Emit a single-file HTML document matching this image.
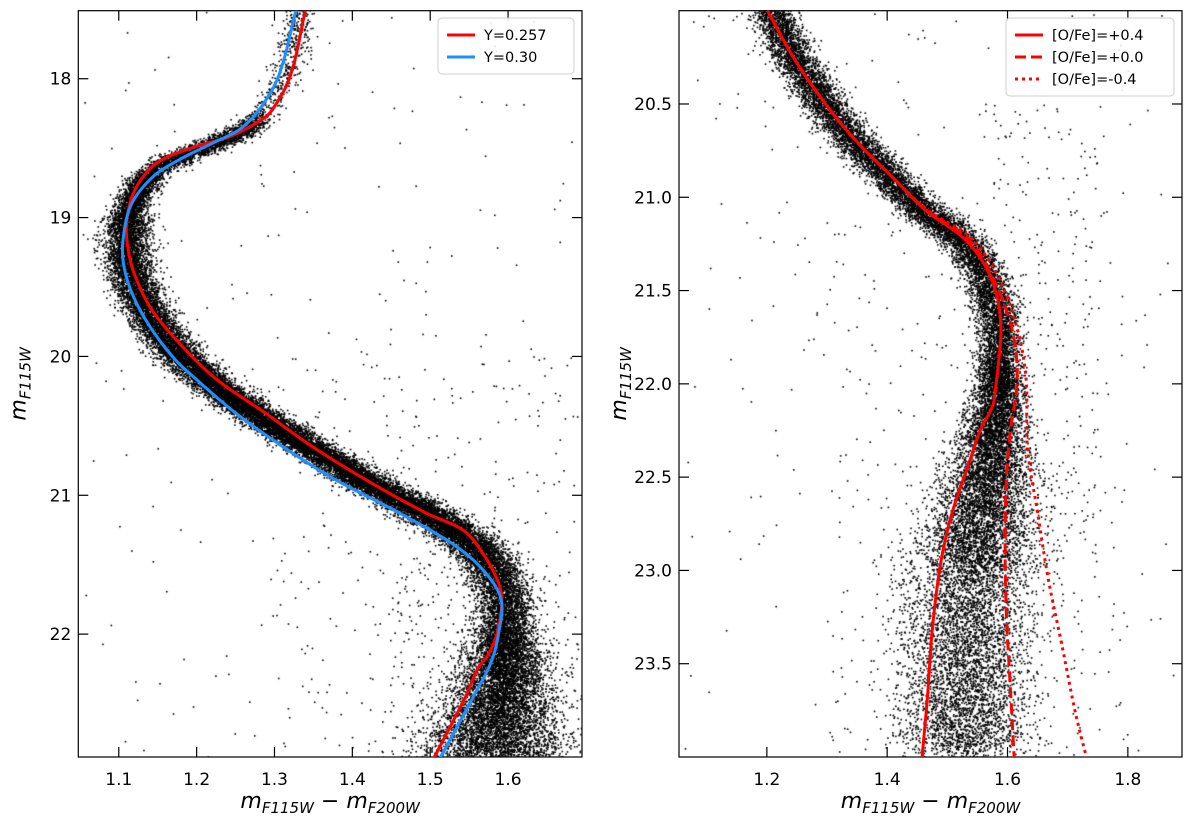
<!DOCTYPE html>
<html><head><meta charset="utf-8">
<style>
html,body{margin:0;padding:0;background:#fff;}
#wrap{position:relative;width:1200px;height:823px;overflow:hidden;}
canvas{position:absolute;left:0;top:0;}
svg{position:absolute;left:0;top:0;}
text{font-family:"DejaVu Sans","Liberation Sans",sans-serif;fill:#000;}
</style></head>
<body>
<div id="wrap">
<canvas id="stars" width="1200" height="823"></canvas>
<svg id="fig" width="1200" height="823" xmlns="http://www.w3.org/2000/svg"></svg>
</div>
<script>
// ---------- data ----------
const leftRedMag = [17.5,17.985,18.225,18.30,18.42,18.49,18.585,18.70,18.85,19.04,19.23,19.42,19.66,19.90,20.167,20.407,20.647,20.887,21.126,21.246,21.414,21.606,21.75,21.99,22.133,22.25,22.445,22.685,22.9];
const leftRedCol = [1.340,1.320,1.297,1.282,1.241,1.198,1.155,1.132,1.117,1.110,1.112,1.121,1.142,1.177,1.226,1.288,1.348,1.417,1.494,1.541,1.567,1.586,1.592,1.586,1.576,1.561,1.546,1.524,1.504];
const leftBlueMag = [17.5,17.985,18.225,18.37,18.465,18.585,18.70,18.895,19.135,19.33,19.545,19.785,20.02,20.167,20.407,20.647,20.887,21.126,21.366,21.558,21.75,21.99,22.205,22.445,22.685,22.9];
const leftBlueCol = [1.328,1.305,1.280,1.254,1.220,1.177,1.145,1.117,1.106,1.106,1.117,1.140,1.172,1.200,1.250,1.310,1.378,1.460,1.533,1.571,1.591,1.588,1.578,1.556,1.533,1.512];
const leftRidgeMag = [17.5,17.985,18.225,18.37,18.465,18.585,18.70,18.895,19.135,19.33,19.545,19.785,20.02,20.3,20.6,20.9,21.13,21.37,21.56,21.75,22.0,22.25,22.5,22.9];
const leftRidgeCol = [1.334,1.313,1.290,1.262,1.225,1.170,1.140,1.118,1.110,1.114,1.126,1.150,1.184,1.245,1.330,1.418,1.495,1.557,1.583,1.595,1.598,1.595,1.590,1.580];
const oPlusMag = [20.0,20.27,20.536,20.714,20.893,21.07,21.214,21.357,21.536,21.714,21.89,22.025,22.12,22.247,22.425,22.69,22.96,23.318,23.675,24.0];
const oPlusCol = [1.201,1.248,1.306,1.353,1.409,1.464,1.525,1.561,1.583,1.589,1.585,1.580,1.575,1.555,1.536,1.508,1.489,1.475,1.467,1.458];
const oZeroMag = [20.0,20.27,20.536,20.714,20.893,21.07,21.214,21.43,21.714,21.98,22.247,22.515,22.87,23.229,23.586,24.0];
const oZeroCol = [1.201,1.248,1.306,1.353,1.409,1.466,1.532,1.575,1.608,1.616,1.605,1.598,1.596,1.598,1.604,1.611];
const oMinusMag = [20.0,20.27,20.536,20.714,20.893,21.07,21.214,21.43,21.714,21.98,22.34,22.69,23.05,23.41,23.765,24.0];
const oMinusCol = [1.201,1.248,1.306,1.353,1.409,1.468,1.538,1.585,1.617,1.631,1.633,1.650,1.668,1.691,1.713,1.731];
const rightRidgeMag = [20.0,20.27,20.536,20.714,20.893,21.07,21.214,21.357,21.536,21.714,21.9,22.0,22.3,22.6,23.0,23.5,24.0];
const rightRidgeCol = [1.205,1.250,1.305,1.350,1.405,1.460,1.518,1.552,1.575,1.585,1.587,1.586,1.576,1.562,1.542,1.530,1.528];
const leftXTicks = [1.1,1.2,1.3,1.4,1.5,1.6];
const leftYTicks = [18,19,20,21,22];
const rightXTicks = [1.2,1.4,1.6,1.8];
const rightYTicks = [20.5,21.0,21.5,22.0,22.5,23.0,23.5];

// ---------- geometry ----------
const L = {x0:78.3,x1:582,y0:10.7,y1:757,xmin:1.048,xmax:1.695,ymin:17.51,ymax:22.885};
const R = {x0:679,x1:1182,y0:10.7,y1:757,xmin:1.054,xmax:1.89,ymin:20.0,ymax:24.0};
function sx(P,v){return P.x0+(v-P.xmin)/(P.xmax-P.xmin)*(P.x1-P.x0);}
function sy(P,v){return P.y0+(v-P.ymin)/(P.ymax-P.ymin)*(P.y1-P.y0);}

const NS="http://www.w3.org/2000/svg";
const svg=document.getElementById('fig');
function el(tag,attrs,parent){const e=document.createElementNS(NS,tag);for(const k in attrs)e.setAttribute(k,attrs[k]);(parent||svg).appendChild(e);return e;}

function interp(ms,cs,m){
  const n=ms.length;
  if(m<=ms[0])return cs[0];
  if(m>=ms[n-1])return cs[n-1];
  let i=1;while(ms[i]<m)i++;
  const t=(m-ms[i-1])/(ms[i]-ms[i-1]);
  const p1=cs[i-1],p2=cs[i];
  const h=ms[i]-ms[i-1];
  const m1=(p2-(i-2>=0?cs[i-2]:p1))/((ms[i]-(i-2>=0?ms[i-2]:ms[i-1])))*h;
  const m2=((i+1<n?cs[i+1]:p2)-p1)/(((i+1<n?ms[i+1]:ms[i])-ms[i-1]))*h;
  const t2=t*t,t3=t2*t;
  return (2*t3-3*t2+1)*p1+(t3-2*t2+t)*m1+(-2*t3+3*t2)*p2+(t3-t2)*m2;
}

// ---------- stars ----------
let seed=12345;
function rnd(){seed|=0;seed=seed+0x6D2B79F5|0;let t=Math.imul(seed^seed>>>15,1|seed);t=t+Math.imul(t^t>>>7,61|t)^t;return((t^t>>>14)>>>0)/4294967296;}
function gauss(){let u=rnd()||1e-9,v=rnd();return Math.sqrt(-2*Math.log(u))*Math.cos(2*Math.PI*v);}
const ctx=document.getElementById('stars').getContext('2d');
ctx.fillStyle='#000';
function sampleTrack(P,ms,cs,n,dens,sigx,sigy){
  const pts=[];for(let m=ms[0];m<=ms[ms.length-1];m+=0.01)pts.push([interp(ms,cs,m),m]);
  const w=[];let tot=0;
  for(let i=1;i<pts.length;i++){const dx=sx(P,pts[i][0])-sx(P,pts[i-1][0]),dy=sy(P,pts[i][1])-sy(P,pts[i-1][1]);
    const wi=Math.hypot(dx,dy)*dens(pts[i][1]);tot+=wi;w.push(tot);}
  ctx.save();ctx.beginPath();ctx.rect(P.x0,P.y0,P.x1-P.x0,P.y1-P.y0);ctx.clip();
  for(let k=0;k<n;k++){const r=rnd()*tot;let lo=0,hi=w.length-1;while(lo<hi){const mid=(lo+hi)>>1;if(w[mid]<r)lo=mid+1;else hi=mid;}
    const f=rnd();const a=pts[lo],b=pts[lo+1];let c=a[0]+f*(b[0]-a[0]),m=a[1]+f*(b[1]-a[1]);
    c+=gauss()*sigx(m);m+=gauss()*sigy;
    ctx.fillRect(sx(P,c)-0.8,sy(P,m)-0.8,1.6,1.6);}
  ctx.restore();
}
sampleTrack(L,leftRidgeMag,leftRidgeCol,30000,
  m=>m<18.3?0.12:(m<18.7?0.45:(m>22?1.5:1.0)),
  m=>m<19?0.01:(m<21?0.015:(m<22?0.018:0.018+(m-22)*0.035)),0.025);
sampleTrack(R,rightRidgeMag,rightRidgeCol,20000,
  m=>m<21.9?1.0:(m<23?1.45:1.0),
  m=>m<21?0.018:(m<22?0.018:Math.min(0.055,0.018+(m-22)*0.035)),0.025);
function field(P,n,cmin,cmax,mmin,mmax){ctx.save();ctx.beginPath();ctx.rect(P.x0,P.y0,P.x1-P.x0,P.y1-P.y0);ctx.clip();
  for(let k=0;k<n;k++){const c=cmin+rnd()*(cmax-cmin),m=mmin+rnd()*(mmax-mmin);ctx.fillRect(sx(P,c)-0.8,sy(P,m)-0.8,1.6,1.6);}ctx.restore();}
field(L,200,1.05,1.69,17.5,22.9);
field(L,300,1.3,1.69,20.0,22.9);
field(L,250,1.45,1.69,21.5,22.9);
field(R,220,1.06,1.88,20.0,24.0);
field(R,300,1.3,1.8,21.0,24.0);
field(R,250,1.55,1.75,20.5,23.0);

// ---------- axes ----------
function panel(P,name,xt,yt,fmt){
  const g=el('g',{});
  el('rect',{x:P.x0,y:P.y0,width:P.x1-P.x0,height:P.y1-P.y0,fill:'none',stroke:'#000','stroke-width':1.2,},g);
  xt.forEach(v=>{const x=sx(P,v);
    el('line',{x1:x,x2:x,y1:P.y1,y2:P.y1-10,stroke:'#000','stroke-width':1.2},g);
    el('line',{x1:x,x2:x,y1:P.y0,y2:P.y0+10,stroke:'#000','stroke-width':1.2},g);
    const t=el('text',{x:x,y:P.y1+28,'font-size':17,'text-anchor':'middle',},g);t.textContent=v.toFixed(1);});
  yt.forEach(v=>{const y=sy(P,v);
    el('line',{x1:P.x0,x2:P.x0+10,y1:y,y2:y,stroke:'#000','stroke-width':1.2},g);
    el('line',{x1:P.x1,x2:P.x1-10,y1:y,y2:y,stroke:'#000','stroke-width':1.2},g);
    const t=el('text',{x:P.x0-7,y:y+6,'font-size':17,'text-anchor':'end',},g);t.textContent=fmt(v);});
  const xl=el('text',{x:(P.x0+P.x1)/2,y:808,'font-size':22,'text-anchor':'middle',},g);
  xl.innerHTML='<tspan font-style="italic">m</tspan><tspan font-style="italic" font-size="15" dy="5">F115W</tspan><tspan dy="-5"> − </tspan><tspan font-style="italic">m</tspan><tspan font-style="italic" font-size="15" dy="5">F200W</tspan>';
  const cx=P.x0-53,cy=(P.y0+P.y1)/2;
  const yl=el('text',{x:cx,y:cy,'font-size':22,'text-anchor':'middle',transform:`rotate(-90 ${cx} ${cy})`,},g);
  yl.innerHTML='<tspan font-style="italic">m</tspan><tspan font-style="italic" font-size="15" dy="5">F115W</tspan>';
}
panel(L,'left-panel',leftXTicks,leftYTicks,v=>String(v));
panel(R,'right-panel',rightXTicks,rightYTicks,v=>v.toFixed(1));

// ---------- isochrones ----------
const defs=el('defs',{});
const c1=el('clipPath',{id:'clipL'},defs);el('rect',{x:L.x0,y:L.y0,width:L.x1-L.x0,height:L.y1-L.y0},c1);
const c2=el('clipPath',{id:'clipR'},defs);el('rect',{x:R.x0,y:R.y0,width:R.x1-R.x0,height:R.y1-R.y0},c2);
function curve(P,ms,cs,color,dash,name){
  let d='';const last=ms[ms.length-1];
  for(let m=ms[0];m<=last+1e-9;m+=0.005){const c=interp(ms,cs,m);d+=(d?'L':'M')+sx(P,c).toFixed(2)+' '+sy(P,m).toFixed(2);}
  const p=el('path',{d:d,fill:'none',stroke:color,'stroke-width':3,'stroke-linejoin':'round','clip-path':P===L?'url(#clipL)':'url(#clipR)'});
  if(dash)p.setAttribute('stroke-dasharray',dash);
  
  
}
curve(L,leftRedMag,leftRedCol,'#ff0000',null,'isochrone-y0257');
curve(L,leftBlueMag,leftBlueCol,'#1e8fff',null,'isochrone-y030');
curve(R,oMinusMag,oMinusCol,'#ff0000','3,4','isochrone-ofe-minus04');
curve(R,oZeroMag,oZeroCol,'#ff0000','11,5','isochrone-ofe-00');
curve(R,oPlusMag,oPlusCol,'#ff0000',null,'isochrone-ofe-plus04');

// ---------- legends ----------
function legend(x,y,w,entries,name){
  const g=el('g',{});
  el('rect',{x:x,y:y,width:w,height:12+entries.length*22,rx:4,fill:'#fff','fill-opacity':0.85,stroke:'#ccc','stroke-width':1},g);
  entries.forEach((e,i)=>{const yy=y+17+i*22;
    const ln=el('line',{x1:x+9,x2:x+37,y1:yy,y2:yy,stroke:e[1],'stroke-width':3},g);
    if(e[2])ln.setAttribute('stroke-dasharray',e[2]);
    
    
    const t=el('text',{x:x+46,y:yy+5,'font-size':14.5,},g);t.textContent=e[0];});
}
legend(438,18,136,[['Y=0.257','#ff0000'],['Y=0.30','#1e8fff']],'legend-left');
legend(1006,18,168,[['[O/Fe]=+0.4','#ff0000'],['[O/Fe]=+0.0','#ff0000','11,5'],['[O/Fe]=-0.4','#ff0000','3,4']],'legend-right');
</script>
</body></html>
